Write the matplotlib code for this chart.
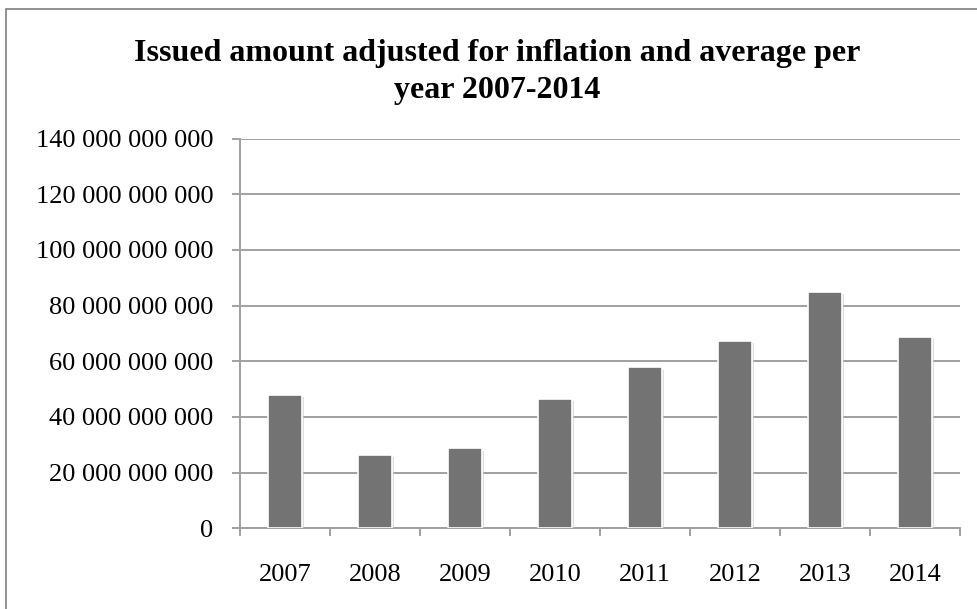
import numpy as np
import matplotlib.pyplot as plt
import matplotlib.ticker as ticker
import matplotlib.patheffects as pe
from matplotlib.patches import Rectangle

plt.rc('font', family='Liberation Serif')

years = ['2007', '2008', '2009', '2010', '2011', '2012', '2013', '2014']
amounts = [47.9e9, 26.2e9, 28.7e9, 46.4e9, 57.8e9, 67.3e9, 85.0e9, 68.8e9]
yticks = np.arange(0, 140e9 + 1, 20e9)

fig = plt.figure(figsize=(9.78, 6.09), dpi=100)
ax = fig.add_axes([0.2454, 0.1325, 0.7362, 0.6399])

# outer chart frame (only left and top edges show in the crop)
fig.patches.append(Rectangle((0.0062, -0.05), 1.2, 1.0357, transform=fig.transFigure,
                             fill=False, edgecolor='#7f7f7f', linewidth=1.2))

x = np.arange(len(years))
bars = ax.bar(x, amounts, width=0.38, color='#737373', edgecolor='white', linewidth=1.2, zorder=3)
for b in bars:
    b.set_path_effects([pe.SimplePatchShadow(offset=(1.5, -1.5), shadow_rgbFace='#c8c8c8', alpha=0.6), pe.Normal()])

ax.set_xlim(-0.5, len(years) - 0.5)
ax.set_ylim(0, 140e9)
ax.set_yticks(yticks)
ax.yaxis.set_major_formatter(ticker.FuncFormatter(lambda v, pos: '{:,.0f}'.format(v).replace(',', ' ')))
ax.set_xticks(x)
ax.set_xticklabels(years)
ax.xaxis.set_minor_locator(ticker.FixedLocator(np.arange(-0.5, len(years), 1.0)))

ax.grid(axis='y', color='#a0a0a0', linewidth=1.4, zorder=0)
for s in ['top', 'right']:
    ax.spines[s].set_visible(False)
ax.spines['left'].set_color('#a0a0a0')
ax.spines['left'].set_linewidth(1.4)
ax.spines['bottom'].set_color('#a0a0a0')
ax.spines['bottom'].set_linewidth(1.4)

ax.tick_params(axis='y', which='major', length=6, width=1.4, color='#a0a0a0', labelsize=19, pad=13)
ax.tick_params(axis='x', which='major', length=0, labelsize=19, pad=26)
ax.tick_params(axis='x', which='minor', length=6, width=1.4, color='#a0a0a0')

fig.text(0.508, 1 - 61 / 609, 'Issued amount adjusted for inflation and average per',
         ha='center', va='baseline', fontsize=23, fontweight='bold')
fig.text(0.508, 1 - 98 / 609, 'year 2007-2014',
         ha='center', va='baseline', fontsize=23, fontweight='bold')

fig.savefig('out.png', dpi=100)
